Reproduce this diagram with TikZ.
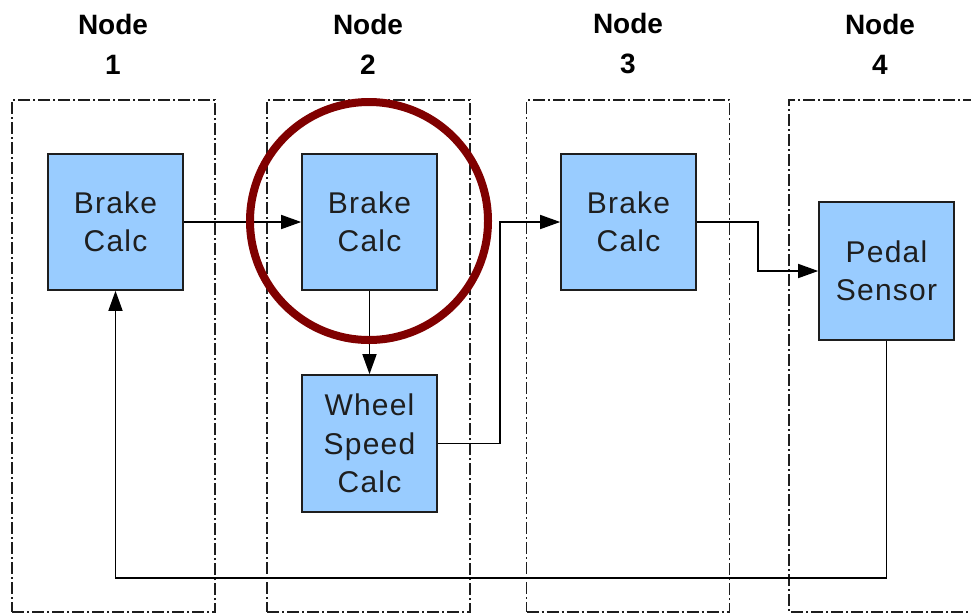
\documentclass[tikz,border=0pt]{standalone}
\usepackage{fontspec}
\setmainfont{Liberation Sans}
\newfontfamily\blkfont[LetterSpace=4]{Liberation Sans}
\usetikzlibrary{arrows.meta}
\definecolor{boxblue}{RGB}{153,204,255}
\definecolor{ringred}{RGB}{128,0,0}
\definecolor{inkgray}{RGB}{30,30,30}
\begin{document}
\begin{tikzpicture}[x=1pt,y=-1pt,
  cont/.style={draw=inkgray, line width=1.3pt, dash pattern=on 12pt off 3pt on 2pt off 3pt, inner sep=0pt, minimum width=203pt, minimum height=512pt},
  blk/.style={draw=inkgray, line width=1.6pt, fill=boxblue, minimum width=135pt, minimum height=136pt, inner sep=0pt, align=center, text=inkgray, font=\blkfont\fontsize{30}{38.5}\selectfont},
  ttl/.style={align=center, font=\fontsize{28}{40}\selectfont\bfseries, text=black, inner sep=0pt},
  arr/.style={draw=black, line width=1.5pt, -{Triangle[length=20pt,width=14pt]}},
  ring/.style={draw=ringred, line width=8pt}]
\useasboundingbox (0,0) rectangle (971,614);
% container boxes
\node[cont] (c1) at (113.5,356) {};
\node[cont] (c2) at (368.5,356) {};
\node[cont] (c3) at (628,356) {};
\draw[draw=inkgray, line width=1.3pt, dash pattern=on 12pt off 3pt on 2pt off 3pt] (975,100) -- (789,100) -- (789,612) -- (975,612);
% titles
\node[ttl] (t1) at (113,44) {Node\\1};
\node[ttl] (t2) at (368,44) {Node\\2};
\node[ttl] (t3) at (628,44) {Node\\3};
\node[ttl] (t4) at (880,44) {Node\\4};
% blocks
\node[blk] (b1) at (115.5,222) {Brake\\Calc};
\node[blk] (b2) at (369.5,222) {Brake\\Calc};
\node[blk] (b3) at (628.5,222) {Brake\\Calc};
\node[blk, minimum height=137pt] (w) at (369.5,443.5) {Wheel\\Speed\\Calc};
\node[blk, minimum height=138pt] (p) at (886.5,271) {Pedal\\Sensor};
% connectors
\coordinate (fbr) at (886.5,578);
\coordinate (fbl) at (115.5,578);
\draw[arr] (b1.east) -- (b2.west);
\draw[arr] (b2.south) -- (w.north);
\draw[arr] (w.east) -- ++(62,0) |- (b3.west);
\draw[arr] (b3.east) -- ++(61,0) |- (p.west);
\draw[arr] (p.south) -- (fbr) -- (fbl) -- (b1.south);
% highlight ring
\node[ring, circle, minimum size=238pt, inner sep=0pt] (ring) at (369,221) {};
\end{tikzpicture}
\end{document}
